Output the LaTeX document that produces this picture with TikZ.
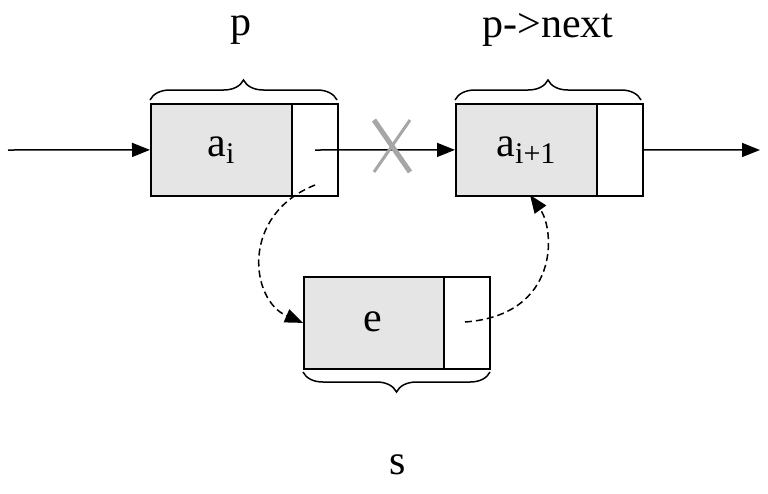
\documentclass[tikz,border=0pt]{standalone}
\usepackage{fontspec}
\setmainfont{Liberation Serif}
\usetikzlibrary{arrows.meta,decorations.pathreplacing}
\newcommand{\mysub}[1]{\raisebox{-7pt}{\fontsize{30}{30}\selectfont #1}}
\begin{document}
\begin{tikzpicture}[x=1pt,y=-1pt,
  cell/.style={draw,line width=1.8pt,fill=gray!20,minimum width=141pt,minimum height=92pt,anchor=north west,inner sep=0pt},
  ptr/.style={draw,line width=1.8pt,fill=white,minimum width=46pt,minimum height=92pt,anchor=north west,inner sep=0pt},
  arr/.style={line width=1.5pt,-{Triangle[length=18pt,width=14pt]}},
  darr/.style={line width=1.5pt,dash pattern=on 7pt off 4pt,-{Triangle[length=18pt,width=14pt]}},
  br/.style={line width=1.5pt,decorate,decoration={brace,amplitude=20pt}},
  lab/.style={font=\fontsize{42}{48}\selectfont}]
\useasboundingbox (0,0) rectangle (768,493);
\node[cell] (d1) at (150,103) {};
\node[ptr] (p1) at (291,103) {};
\node[lab] at (221,150) {a\mysub{i}};
\node[cell] (d2) at (455,103) {};
\node[ptr] (p2) at (596,103) {};
\node[lab] at (526,150) {a\mysub{i+1}};
\node[cell] (d3) at (303,276) {};
\node[ptr] (p3) at (443,276) {};
\node[lab] at (373,322) {e};
\coordinate (in) at (8,150);
\coordinate (out) at (760,150);
\coordinate (c1) at (315,150);
\draw[arr] (in) -- (d1.west);
\draw[arr] (c1) -- (d2.west);
\draw[arr] (p2.east) -- (out);
\coordinate (x1) at (374,120);
\coordinate (x2) at (410,172);
\coordinate (x3) at (410,120);
\coordinate (x4) at (374,172);
\draw[gray!70,line width=5pt] (x1) -- (x2);
\draw[gray!70,line width=3pt] (x3) -- (x4);
\coordinate (s1) at (315,185);
\coordinate (s2) at (465,322);
\draw[darr] (s1) .. controls (240,215) and (250,300) .. (d3.west);
\draw[darr] (s2) .. controls (560,315) and (555,230) .. (530,195);
\draw[br] (150,100) -- (337,100);
\draw[br] (455,100) -- (641,100);
\draw[br] (490,372) -- (303,372);
\node[lab] (lp) at (241,30) {p};
\node[lab] (lpn) at (548,30) {p->next};
\node[lab] (ls) at (398,465) {s};
\end{tikzpicture}
\end{document}
